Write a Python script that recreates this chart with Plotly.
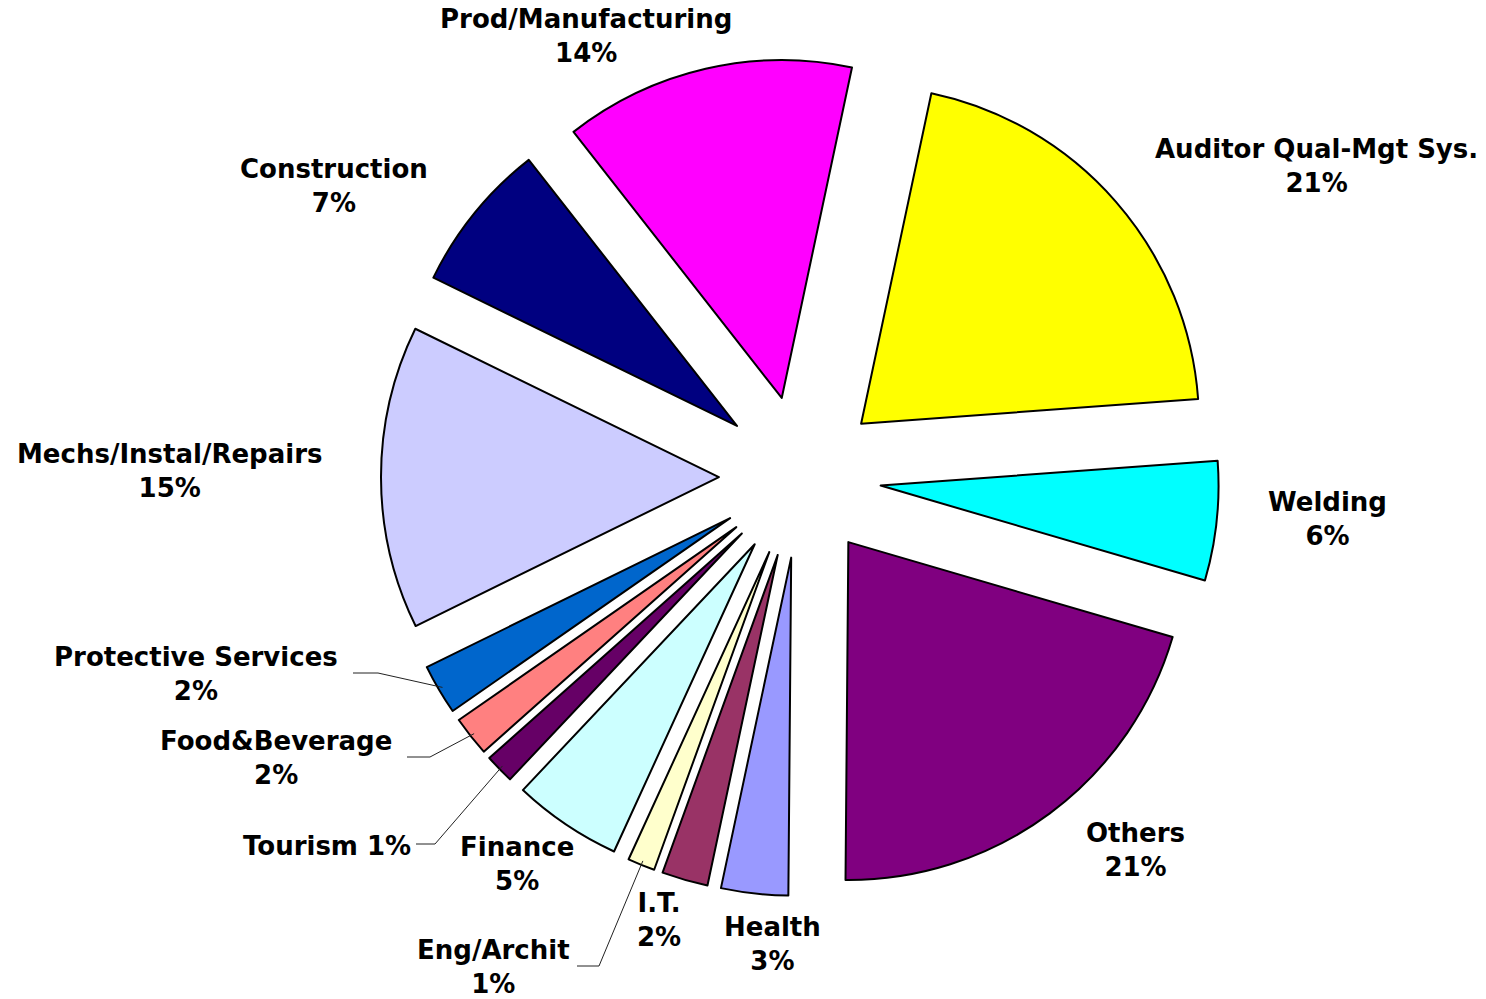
import math
import plotly.graph_objects as go

W, H = 1486, 999

# ---- data (clockwise from the top-right, as drawn) ----
categories = ["Auditor Qual-Mgt Sys.", "Welding", "Others", "Health", "I.T.",
              "Eng/Archit", "Finance", "Tourism", "Food&Beverage",
              "Protective Services", "Mechs/Instal/Repairs", "Construction",
              "Prod/Manufacturing"]
# estimated shares (labels show them rounded)
values = [20.5, 5.7, 20.6, 3.2, 2.2, 1.3, 5.2, 1.4, 1.9, 2.4, 14.5, 7.2, 13.9]
pct_labels = ["21%", "6%", "21%", "3%", "2%", "1%", "5%", "1%", "2%", "2%",
              "15%", "7%", "14%"]
colors = ["#FFFF00", "#00FFFF", "#800080", "#9999FF", "#993366", "#FFFFCC",
          "#CCFFFF", "#660066", "#FF8080", "#0066CC", "#CCCCFF", "#000080",
          "#FF00FF"]

# label layout: name/percent joined on one line or two, pixel centre
label_oneline = [False, False, False, False, False, False, False, True,
                 False, False, False, False, False]
label_pos = [(1316, 166), (1327, 519), (1135, 850), (772, 944), (659, 920),
             (493, 967), (517, 864), (327, 846), (276, 758), (196, 674),
             (169, 471), (334, 186), (586, 36)]

# leader lines: text-side pixel points for the slices that need them
leader_src = {
    "Protective Services": [(353, 673), (378, 673)],
    "Food&Beverage": [(407, 757), (430, 757)],
    "Tourism": [(416, 844), (435, 844)],
    "Eng/Archit": [(577, 966), (599, 966)],
}

ROTATION = 12
PULL = 0.24
cx, cy = 800, 477
half = 419


def px(x, y):
    return x / W, 1 - y / H


fig = go.Figure()
fig.add_trace(go.Pie(
    labels=categories,
    values=values,
    sort=False,
    direction="clockwise",
    rotation=ROTATION,
    pull=[PULL] * len(values),
    marker=dict(colors=colors, line=dict(color="#000000", width=2)),
    textinfo="none",
    hoverinfo="label+percent",
    showlegend=False,
    domain=dict(x=[(cx - half) / W, (cx + half) / W],
                y=[1 - (cy + half) / H, 1 - (cy - half) / H]),
))

for name, pct, one, (x, y) in zip(categories, pct_labels, label_oneline, label_pos):
    t = f"{name} {pct}" if one else f"{name}<br>{pct}"
    xp, yp = px(x, y)
    fig.add_annotation(x=xp, y=yp, xref="paper", yref="paper", text=t,
                       showarrow=False, xanchor="center", yanchor="middle",
                       align="center",
                       font=dict(family="DejaVu Sans", size=26, color="#000000",
                                 weight="bold"))

# leader line end points on the outer arc of each pulled slice
r = half / (1 + PULL)
total = sum(values)
start = ROTATION
mid_angle = {}
for name, v in zip(categories, values):
    span = 360 * v / total
    mid_angle[name] = start + span / 2
    start += span

for name, pts in leader_src.items():
    th = math.radians(mid_angle[name])
    ex = cx + (1 + PULL) * r * 0.99 * math.sin(th)
    ey = cy - (1 + PULL) * r * 0.99 * math.cos(th)
    allpts = pts + [(ex, ey)]
    path = "M " + " L ".join(f"{px(x, y)[0]},{px(x, y)[1]}" for x, y in allpts)
    fig.add_shape(type="path", path=path, xref="paper", yref="paper",
                  line=dict(color="#222222", width=1))

fig.update_layout(
    width=W, height=H,
    margin=dict(l=0, r=0, t=0, b=0),
    paper_bgcolor="#FFFFFF",
    plot_bgcolor="#FFFFFF",
)

fig.write_html("out.html")
